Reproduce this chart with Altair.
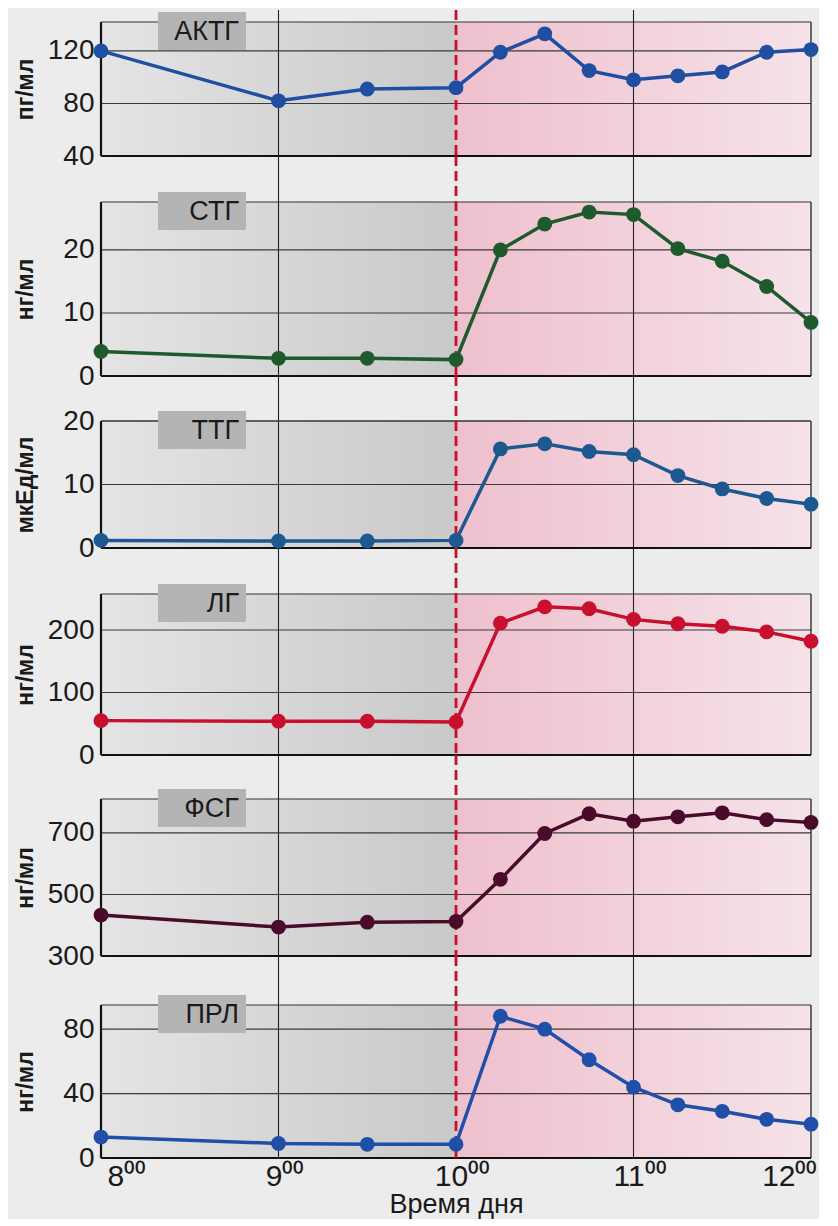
import altair as alt
import pandas as pd

# ---------------- data ----------------
times = [8, 9, 9.5, 10, 10.25, 10.5, 10.75, 11, 11.25, 11.5, 11.75, 12]
hormones = ["АКТГ", "СТГ", "ТТГ", "ЛГ", "ФСГ", "ПРЛ"]
units = ["пг/мл", "нг/мл", "мкЕд/мл", "нг/мл", "нг/мл", "нг/мл"]

actg = [120, 82, 91, 92, 119, 133, 105, 98, 101, 104, 119, 121]
stg = [3.9, 2.8, 2.8, 2.6, 20, 24.1, 26, 25.6, 20.2, 18.2, 14.2, 8.5]
ttg = [1.2, 1.1, 1.1, 1.2, 15.6, 16.4, 15.2, 14.7, 11.4, 9.3, 7.8, 6.9]
lg = [55, 54, 54, 53, 211, 237, 234, 217, 210, 206, 197, 182]
fsg = [433, 394, 410, 412, 549, 698, 762, 738, 752, 765, 743, 734]
prl = [13, 9, 8.5, 8.5, 88, 80, 61, 44, 33, 29, 24, 21]
series = [actg, stg, ttg, lg, fsg, prl]

y_ticks = [[40, 80, 120], [0, 10, 20], [0, 10, 20], [0, 100, 200], [300, 500, 700], [0, 40, 80]]
y_ranges = [[40, 142], [0, 27.6], [0, 20], [0, 257.6], [300, 810], [0, 95]]

x_ticks = [8, 9, 10, 11, 12]
x_labels = ["8⁰⁰", "9⁰⁰", "10⁰⁰", "11⁰⁰", "12⁰⁰"]
hour_lines = [9, 11]
stimulus_time = [10]
x_title = "Время дня"

# ---------------- style ----------------
colors = ["#1f4ea3", "#1e5a2d", "#1d5890", "#c8102e", "#4a0b2b", "#1f4fa8"]
panel_h = [134, 174, 127, 161, 157, 153]
gaps = [12, 46, 45, 46, 44, 49]
W = 710
FONT = "Liberation Sans"
INK = "#1a1a1a"

gray_grad = alt.LinearGradient(
    gradient="linear",
    stops=[alt.GradientStop(color="#e4e4e4", offset=0),
           alt.GradientStop(color="#c9c9c9", offset=1)],
    x1=0, x2=1, y1=0, y2=0)
pink_grad = alt.LinearGradient(
    gradient="linear",
    stops=[alt.GradientStop(color="#eec0cd", offset=0),
           alt.GradientStop(color="#f6e2e9", offset=1)],
    x1=0, x2=1, y1=0, y2=0)

label_expr = " : ".join(
    f"datum.value == {v} ? '{l}'" for v, l in zip(x_ticks, x_labels)) + " : ''"


def panel(i):
    lo, hi = y_ranges[i]
    h, g = panel_h[i], gaps[i]
    top = hi + (hi - lo) * g / h
    xs = alt.Scale(domain=[8, 12], nice=False, zero=False)
    ys = alt.Scale(domain=[lo, top], nice=False, zero=False)
    if i == len(series) - 1:
        xaxis = alt.Axis(values=x_ticks, labelExpr=label_expr, domain=False,
                         ticks=False, grid=False, labelFont=FONT, labelFontSize=30,
                         labelColor=INK, labelPadding=3, labelFlush=True,
                         labelOffset=6, labelOverlap=False, title=x_title,
                         titleFont=FONT, titleFontSize=27,
                         titleFontWeight="normal", titleColor=INK, titlePadding=0)
    else:
        xaxis = None
    yaxis = alt.Axis(values=y_ticks[i], domain=False, ticks=False, grid=False,
                     labelFont=FONT, labelFontSize=28, labelColor=INK,
                     labelPadding=7, title=units[i], titleFont=FONT,
                     titleFontSize=23, titleFontWeight="bold", titleColor=INK,
                     titleAngle=270, titleX=-76, titleY=g + h / 2,
                     titleAlign="center", titleBaseline="middle")

    def X(f):
        return alt.X(f, type="quantitative", scale=xs, axis=xaxis)

    def Y(f):
        return alt.Y(f, type="quantitative", scale=ys, axis=yaxis)

    df = pd.DataFrame({"t": times, "v": series[i]})
    shade = pd.DataFrame({"x": [8, 10], "x2": [10, 12], "y": [lo, lo], "y2": [hi, hi]})

    gray = alt.Chart(shade.iloc[[0]]).mark_rect(fill=gray_grad).encode(
        x=X("x"), x2="x2", y=Y("y"), y2="y2")
    pink = alt.Chart(shade.iloc[[1]]).mark_rect(fill=pink_grad).encode(
        x=X("x"), x2="x2", y=Y("y"), y2="y2")
    vgrid = alt.Chart(pd.DataFrame({"x": hour_lines})).mark_rule(
        color="#222222", strokeWidth=1.1).encode(x=X("x"))
    hgrid = alt.Chart(pd.DataFrame({"y": y_ticks[i]})).mark_rule(
        color="#3a3a3a", strokeWidth=1.1).encode(y=Y("y"))
    left = alt.Chart(pd.DataFrame({"x": [8], "y": [lo], "y2": [hi]})).mark_rule(
        color="#111111", strokeWidth=2.2).encode(x=X("x"), y=Y("y"), y2="y2")
    right = alt.Chart(pd.DataFrame({"x": [12], "y": [lo], "y2": [hi]})).mark_rule(
        color="#222222", strokeWidth=1.3).encode(x=X("x"), y=Y("y"), y2="y2")
    bottom = alt.Chart(pd.DataFrame({"y": [lo]})).mark_rule(
        color="#111111", strokeWidth=2.2).encode(y=Y("y"))
    topb = alt.Chart(pd.DataFrame({"y": [hi]})).mark_rule(
        color="#333333", strokeWidth=1.2).encode(y=Y("y"))
    dash = alt.Chart(pd.DataFrame({"x": stimulus_time})).mark_rule(
        color="#c8102e", strokeWidth=2.8, strokeDash=[10, 5]).encode(x=X("x"))
    line = alt.Chart(df).mark_line(color=colors[i], strokeWidth=3.5).encode(
        x=X("t"), y=Y("v"))
    pts = alt.Chart(df).mark_circle(color=colors[i], size=220, opacity=1).encode(
        x=X("t"), y=Y("v"))
    name = pd.DataFrame({"name": [hormones[i]]})
    box = alt.Chart(name).mark_rect(color="#b4b4b4").encode(
        x=alt.value(57), x2=alt.value(145), y=alt.value(g - 10), y2=alt.value(g + 28))
    txt = alt.Chart(name).mark_text(align="right", baseline="middle", font=FONT,
                                    fontSize=27, color=INK).encode(
        x=alt.value(138), y=alt.value(g + 10), text="name:N")

    return alt.layer(gray, pink, vgrid, hgrid, left, right, bottom, topb, dash,
                     line, pts, box, txt).properties(width=W, height=h + g)


chart = alt.vconcat(*[panel(i) for i in range(len(series))], spacing=0,
                    bounds="flush").configure_view(stroke=None).properties(
    background="#ececec",
    padding={"left": 6, "top": 0, "right": 0, "bottom": 2})

chart.save("out.html", embed_options={"renderer": "svg", "actions": False})
